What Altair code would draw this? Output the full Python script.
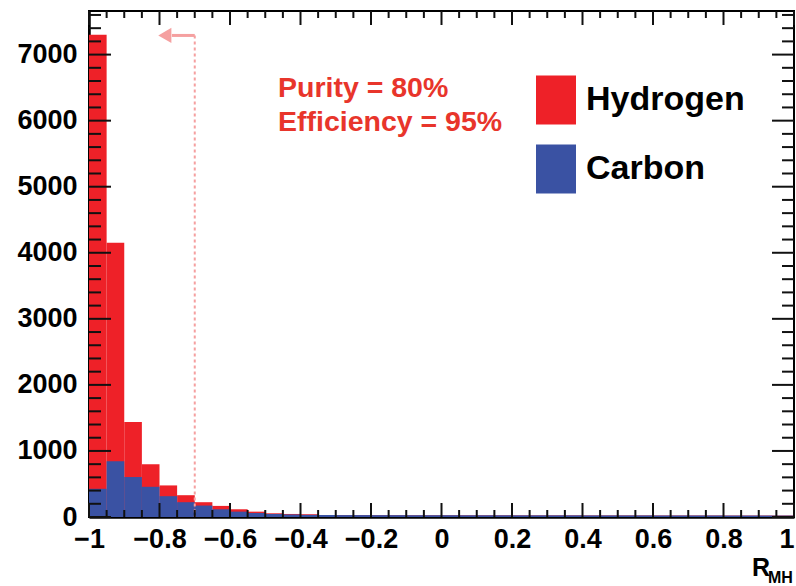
import altair as alt
import pandas as pd

# ---------------- data ----------------
bin_lo = [-1.00, -0.95, -0.90, -0.85, -0.80, -0.75, -0.70, -0.65, -0.60, -0.55,
          -0.50, -0.45, -0.40, -0.35, -0.30, -0.25, -0.20, -0.15, -0.10, -0.05,
          0.00, 0.05, 0.10, 0.15, 0.20, 0.25, 0.30, 0.35, 0.40, 0.45,
          0.50, 0.55, 0.60, 0.65, 0.70, 0.75, 0.80, 0.85, 0.90, 0.95]
bin_width = 0.05

# heights of the red (hydrogen) and blue (carbon) histogram bars
hydrogen = [7300, 4150, 1440, 800, 478, 330, 224, 168, 117, 81,
            56, 46, 42, 30, 29, 29, 28, 28, 27, 27,
            27, 26, 26, 26, 25, 25, 25, 25, 24, 24,
            24, 24, 23, 23, 23, 23, 22, 22, 22, 22]
carbon = [427, 843, 605, 457, 315, 224, 173, 117, 81, 61,
          46, 38, 32, 30, 29, 29, 28, 28, 27, 27,
          27, 26, 26, 26, 25, 25, 25, 25, 24, 24,
          24, 24, 23, 23, 23, 23, 22, 22, 22, 22]

series_names = ["Hydrogen", "Carbon"]
series_colors = ["#ee2128", "#3a52a3"]

x_major = [-1, -0.8, -0.6, -0.4, -0.2, 0, 0.2, 0.4, 0.6, 0.8, 1]
x_minor = [-0.95, -0.9, -0.85, -0.75, -0.7, -0.65, -0.55, -0.5, -0.45,
           -0.35, -0.3, -0.25, -0.15, -0.1, -0.05, 0.05, 0.1, 0.15,
           0.25, 0.3, 0.35, 0.45, 0.5, 0.55, 0.65, 0.7, 0.75, 0.85, 0.9, 0.95]
y_major = [0, 1000, 2000, 3000, 4000, 5000, 6000, 7000]
y_minor = [v for v in range(200, 7601, 200) if v % 1000 != 0]

cut_value = -0.70
arrow_y = 7290
arrow_end = -0.765
annot_lines = ["Purity = 80%", "Efficiency = 95%"]

X_DOMAIN = [-1.0, 1.0]
Y_DOMAIN = [0.0, 7660.0]
W, H = 705, 506
FONT = "Liberation Sans"
PINK = "#f5a0a0"
TEXT_RED = "#e8352b"
TICK_COLOR = "#111111"

# ---------------- tables ----------------
def hist_df(vals, name):
    return pd.DataFrame({
        "lo": bin_lo,
        "hi": [round(b + bin_width, 2) for b in bin_lo],
        "count": vals,
        "base": [0] * len(vals),
        "series": name,
    })

df_h = hist_df(hydrogen, "Hydrogen")
df_c = hist_df(carbon, "Carbon")

# tick tables (tick lengths in pixels converted to data units)
px_x = (X_DOMAIN[1] - X_DOMAIN[0]) / W
px_y = (Y_DOMAIN[1] - Y_DOMAIN[0]) / H
yt_rows = []
for vals, ln in ((y_major, 22), (y_minor, 12)):
    for v in vals:
        yt_rows.append({"ty": float(v), "ta": X_DOMAIN[0], "tb": X_DOMAIN[0] + ln * px_x})
        yt_rows.append({"ty": float(v), "ta": X_DOMAIN[1] - ln * px_x, "tb": X_DOMAIN[1]})
xt_rows = []
for vals, ln in ((x_major, 14), (x_minor, 7)):
    for v in vals:
        xt_rows.append({"tx": float(v), "ta": Y_DOMAIN[0], "tb": Y_DOMAIN[0] + ln * px_y})
        xt_rows.append({"tx": float(v), "ta": Y_DOMAIN[1] - ln * px_y, "tb": Y_DOMAIN[1]})
df_yt = pd.DataFrame(yt_rows)
df_xt = pd.DataFrame(xt_rows)

xs = alt.Scale(domain=X_DOMAIN, nice=False, zero=False)
ys = alt.Scale(domain=Y_DOMAIN, nice=False)

color = alt.Color(
    "series:N",
    scale=alt.Scale(domain=series_names, range=series_colors),
    legend=alt.Legend(
        orient="none", legendX=447, legendY=69, title=None,
        symbolType="M-1,-1.225H1V1.225H-1Z", symbolSize=1600,
        symbolStrokeWidth=0, symbolOpacity=1,
        labelFont=FONT, labelFontWeight="bold", labelFontSize=34,
        labelColor="black", labelOffset=10, rowPadding=19, padding=0,
    ),
)

x_axis = alt.Axis(values=x_major, format=".1~f", labelFont=FONT, labelFontSize=27,
                  labelFontWeight="bold", labelColor="black", ticks=False, tickSize=0,
                  grid=False, title=None, labelPadding=9, labelFlush=False,
                  labelAlign={"expr": "datum.value >= 1 ? 'right' : 'center'"},
                  labelOverlap=False, labelBound=False,
                  domainWidth=2.5, domainColor="black")
y_axis = alt.Axis(values=y_major, format="d", labelFont=FONT, labelFontSize=27,
                  labelFontWeight="bold", labelColor="black", ticks=False, tickSize=0,
                  grid=False, title=None, labelPadding=12, labelOverlap=False,
                  domainWidth=2.5, domainColor="black")

red_bars = alt.Chart(df_h).mark_bar(strokeWidth=0).encode(
    x=alt.X("lo:Q", scale=xs, axis=x_axis),
    x2="hi:Q",
    y=alt.Y("count:Q", scale=ys, axis=y_axis, stack=None),
    y2="base:Q",
    color=color,
)
blue_bars = alt.Chart(df_c).mark_bar(strokeWidth=0).encode(
    x=alt.X("lo:Q", scale=xs),
    x2="hi:Q",
    y=alt.Y("count:Q", scale=ys, stack=None),
    y2="base:Q",
    color=color,
)

cut_df = pd.DataFrame({"x": [cut_value], "x2": [arrow_end], "y": [arrow_y], "y0": [0]})
cut_line = alt.Chart(cut_df).mark_rule(color=PINK, strokeWidth=2, strokeDash=[3, 3]).encode(
    x=alt.X("x:Q", scale=xs), y=alt.Y("y:Q", scale=ys), y2="y0:Q")
arrow_line = alt.Chart(cut_df).mark_rule(color=PINK, strokeWidth=3).encode(
    x=alt.X("x:Q", scale=xs), x2="x2:Q", y=alt.Y("y:Q", scale=ys))
arrow_head = alt.Chart(cut_df).mark_point(shape="triangle-left", filled=True, size=230,
                                          color=PINK, opacity=1, xOffset=-7).encode(
    x=alt.X("x2:Q", scale=xs), y=alt.Y("y:Q", scale=ys))

ytick_layer = alt.Chart(df_yt).mark_rule(color=TICK_COLOR, strokeWidth=2).encode(
    x=alt.X("ta:Q", scale=xs), x2="tb:Q", y=alt.Y("ty:Q", scale=ys))
xtick_layer = alt.Chart(df_xt).mark_rule(color=TICK_COLOR, strokeWidth=2).encode(
    x=alt.X("tx:Q", scale=xs), y=alt.Y("ta:Q", scale=ys), y2="tb:Q")

annot1 = alt.Chart(pd.DataFrame({"t": [annot_lines[0]]})).mark_text(
    font=FONT, fontWeight="bold", fontSize=28.5, color=TEXT_RED, align="left",
    baseline="alphabetic").encode(text="t:N", x=alt.value(189), y=alt.value(86))
annot2 = alt.Chart(pd.DataFrame({"t": [annot_lines[1]]})).mark_text(
    font=FONT, fontWeight="bold", fontSize=28.5, color=TEXT_RED, align="left",
    baseline="alphabetic").encode(text="t:N", x=alt.value(189), y=alt.value(120))

title_r = alt.Chart(pd.DataFrame({"t": ["R"]})).mark_text(
    font=FONT, fontWeight="bold", fontSize=25, color="black", align="left",
    baseline="alphabetic").encode(text="t:N", x=alt.value(663), y=alt.value(565))
title_sub = alt.Chart(pd.DataFrame({"t": ["MH"]})).mark_text(
    font=FONT, fontWeight="bold", fontSize=16, color="black", align="left",
    baseline="alphabetic").encode(text="t:N", x=alt.value(679), y=alt.value(572))

chart = alt.layer(
    red_bars, blue_bars, cut_line, arrow_line, arrow_head,
    ytick_layer, xtick_layer, annot1, annot2, title_r, title_sub,
).properties(
    width=W, height=H,
    autosize=alt.AutoSizeParams(type="none"),
    padding={"left": 89, "top": 11, "right": 2, "bottom": 69},
).configure_view(
    stroke="black", strokeWidth=2,
)

chart.save("out.html", embed_options={"renderer": "svg", "actions": False})
